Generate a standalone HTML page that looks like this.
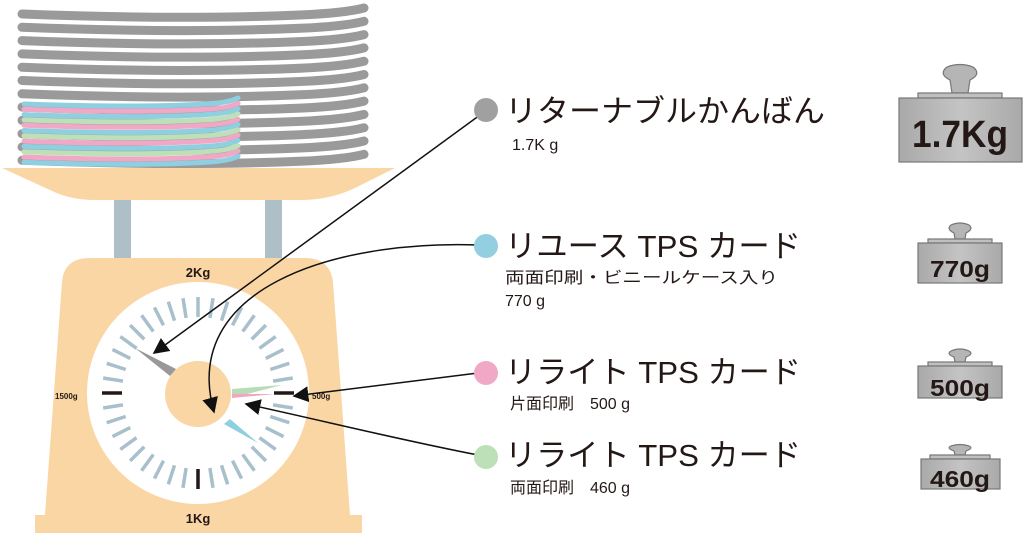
<!DOCTYPE html>
<html><head><meta charset="utf-8"><style>
html,body{margin:0;padding:0;background:#fff;width:1024px;height:533px;overflow:hidden}
svg{display:block}
text{font-family:"Liberation Sans","Noto Sans CJK JP",sans-serif;fill:#231815}
</style></head><body>
<svg width="1024" height="533" viewBox="0 0 1024 533" xmlns="http://www.w3.org/2000/svg">
<defs>
<marker id="ah" viewBox="0 0 10 10" refX="9" refY="5" markerWidth="10" markerHeight="10" markerUnits="userSpaceOnUse" orient="auto"><path d="M0,0 L10,5 L0,10 z" fill="#111"/></marker>
<marker id="ah2" viewBox="0 0 10 10" refX="9" refY="5" markerWidth="16" markerHeight="16" markerUnits="userSpaceOnUse" orient="auto"><path d="M0,0 L10,5 L0,10 z" fill="#111"/></marker>
<linearGradient id="wg" x1="0" x2="1"><stop offset="0" stop-color="#a9a9a9"/><stop offset="0.5" stop-color="#c4c4c4"/><stop offset="1" stop-color="#a9a9a9"/></linearGradient>
</defs>
<g stroke="#9a9a9a" stroke-width="9" stroke-linecap="round" fill="none" id="plates"></g>
<g stroke-width="5" stroke-linecap="round" fill="none" id="cplates"></g>
<path d="M2,168 L395,168 L355,188 Q330,200 300,200 L95,200 Q70,200 50,190 Z" fill="#fad6a5"/>
<rect x="114" y="200" width="17" height="60" fill="#aebfc8"/>
<rect x="265" y="200" width="17" height="60" fill="#aebfc8"/>
<path d="M62,282 Q64,258 90,258 L305,258 Q330,258 333,282 L350,515 L45,515 Z" fill="#fad6a5"/>
<rect x="35" y="515" width="327" height="18" fill="#fad6a5"/>
<circle cx="198" cy="393" r="111" fill="#fff"/>
<g id="ticks" stroke-width="3.5"></g>
<circle cx="198" cy="394" r="33" fill="#fad6a5"/>
<polygon points="170,376 176,369 135,348" fill="#999"/>
<polygon points="224,424 230,419 258,443" fill="#8ecfe0"/>
<polygon points="232,389 232,398 282,385" fill="#b9dcb6"/>
<polygon points="232,394 232,398 275,394" fill="#f0a8c0"/>
<text x="198" y="277" font-size="13" font-weight="bold" text-anchor="middle">2Kg</text>
<text x="198" y="523" font-size="13" font-weight="bold" text-anchor="middle">1Kg</text>
<text x="55" y="399" font-size="8" font-weight="bold">1500g</text>
<text x="312" y="399" font-size="8" font-weight="bold">500g</text>
<g stroke="#111" stroke-width="1.5" fill="none" marker-end="url(#ah2)">
<line x1="480" y1="115" x2="154" y2="353"/>
<path d="M478,245 C330,240 180,290 214,412"/>
<line x1="478" y1="373" x2="294" y2="396"/>
<path d="M478,455 C400,440 320,420 246,404"/>
</g>
<circle cx="486" cy="110" r="12" fill="#a0a0a0"/>
<circle cx="486" cy="246" r="12" fill="#93cfe0"/>
<circle cx="486" cy="373" r="12" fill="#f0a8c6"/>
<circle cx="486" cy="457" r="12" fill="#bde0b8"/>
<text x="505" y="122" font-size="31" textLength="320" lengthAdjust="spacingAndGlyphs">リターナブルかんばん</text>
<text x="512" y="150" font-size="16">1.7K g</text>
<text x="505" y="257" font-size="31" textLength="296" lengthAdjust="spacingAndGlyphs">リユース TPS カード</text>
<text x="505" y="283" font-size="16" textLength="273" lengthAdjust="spacingAndGlyphs">両面印刷・ビニールケース入り</text>
<text x="505" y="306" font-size="16">770 g</text>
<text x="505" y="383" font-size="31" textLength="296" lengthAdjust="spacingAndGlyphs">リライト TPS カード</text>
<text x="510" y="409" font-size="16">片面印刷　500 g</text>
<text x="505" y="466" font-size="31" textLength="296" lengthAdjust="spacingAndGlyphs">リライト TPS カード</text>
<text x="510" y="493" font-size="16">両面印刷　460 g</text>
<g stroke="#777" stroke-width="1.2">
<path d="M952,93 L950,80 Q938,74 947,67 Q960,62 973,67 Q982,74 970,80 L968,93 Z" fill="#b5b5b5"/>
<rect x="918" y="93" width="84" height="5" fill="#c0c0c0"/>
<rect x="899" y="98" width="123" height="64" fill="url(#wg)"/>
<path d="M955,239 L954,233 Q946,229 951,225 Q960,221 969,225 Q974,229 966,233 L965,239 Z" fill="#b5b5b5"/>
<rect x="928" y="239" width="64" height="4" fill="#c0c0c0"/>
<rect x="918" y="243" width="84" height="40" fill="url(#wg)"/>
<path d="M955,362 L954,357 Q946,354 951,351 Q960,347 969,351 Q974,354 966,357 L965,362 Z" fill="#b5b5b5"/>
<rect x="928" y="362" width="64" height="4" fill="#c0c0c0"/>
<rect x="918" y="366" width="84" height="32" fill="url(#wg)"/>
<path d="M955,455 L954,451 Q946,448 951,446 Q960,443 969,446 Q974,448 966,451 L965,455 Z" fill="#b5b5b5"/>
<rect x="930" y="455" width="60" height="4" fill="#c0c0c0"/>
<rect x="921" y="459" width="79" height="30" fill="url(#wg)"/>
</g>
<text x="960" y="147" font-size="38" font-weight="bold" text-anchor="middle" textLength="96" lengthAdjust="spacingAndGlyphs">1.7Kg</text>
<text x="960" y="277" font-size="23" font-weight="bold" text-anchor="middle" textLength="60" lengthAdjust="spacingAndGlyphs">770g</text>
<text x="960" y="396" font-size="23" font-weight="bold" text-anchor="middle" textLength="60" lengthAdjust="spacingAndGlyphs">500g</text>
<text x="960" y="487" font-size="23" font-weight="bold" text-anchor="middle" textLength="60" lengthAdjust="spacingAndGlyphs">460g</text>
</svg>
<script>
(function(){
var ns="http://www.w3.org/2000/svg";
var g=document.getElementById("plates");
for(var i=0;i<12;i++){
 var y=14+i*13.3;
 var p=document.createElementNS(ns,"path");
 p.setAttribute("d","M22,"+y+" Q180,"+(y+6)+" 300,"+(y+1)+" Q345,"+(y-1)+" 364,"+(y-6));
 g.appendChild(p);
}
var cg=document.getElementById("cplates");
var cols=["#8ecfe0","#f0a8c6","#8ecfe0","#bde0b8","#f0a8c6","#8ecfe0","#bde0b8","#f0a8c6","#8ecfe0","#bde0b8","#f0a8c6","#8ecfe0"];
for(var j=0;j<12;j++){
 var y2=104+j*5.3;
 var q=document.createElementNS(ns,"path");
 q.setAttribute("d","M24,"+y2+" Q140,"+(y2+4)+" 205,"+(y2)+" Q228,"+(y2-1)+" 238,"+(y2-6));
 q.setAttribute("stroke",cols[j]);
 cg.appendChild(q);
}
var tg=document.getElementById("ticks");
for(var k=0;k<40;k++){
 var a=k*9*Math.PI/180;
 var major=(k%10==0&&k!=30);
 var r1=76,r2=96;
 var l=document.createElementNS(ns,"line");
 l.setAttribute("x1",198+r1*Math.cos(a));l.setAttribute("y1",393+r1*Math.sin(a));
 l.setAttribute("x2",198+r2*Math.cos(a));l.setAttribute("y2",393+r2*Math.sin(a));
 l.setAttribute("stroke",major?"#231815":"#a8bfcc");
 tg.appendChild(l);
}
})();
</script>
</body></html>
